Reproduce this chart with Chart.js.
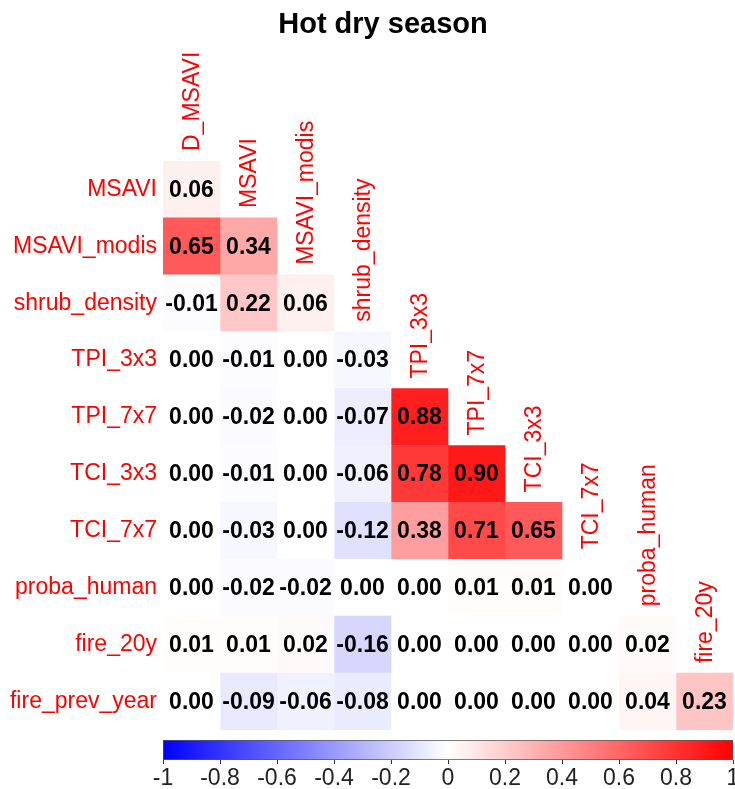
<!DOCTYPE html>
<html>
<head>
<meta charset="utf-8">
<script src="https://cdn.jsdelivr.net/npm/chart.js@4.4.1/dist/chart.umd.min.js"></script>
<style>
  html, body { margin: 0; padding: 0; background: #fff; }
  #wrap { position: relative; width: 735px; height: 789px; overflow: hidden; }
  #corrChart { position: absolute; left: 0; top: 0; }
  #scaleChart { position: absolute; left: 0; top: 735px; }
</style>
</head>
<body>
<div id="wrap">
  <canvas id="corrChart" width="735" height="789"></canvas>
  <canvas id="scaleChart" width="735" height="54"></canvas>
</div>
<script>
// row / column variables of the lower triangle
const rowNames = ['MSAVI', 'MSAVI_modis', 'shrub_density', 'TPI_3x3', 'TPI_7x7',
    'TCI_3x3', 'TCI_7x7', 'proba_human', 'fire_20y', 'fire_prev_year'];
const colNames = ['D_MSAVI', 'MSAVI', 'MSAVI_modis', 'shrub_density', 'TPI_3x3',
    'TPI_7x7', 'TCI_3x3', 'TCI_7x7', 'proba_human', 'fire_20y'];

// correlation values, one row each
const corrRows = [
    [0.06],
    [0.65, 0.34],
    [-0.01, 0.22, 0.06],
    [0.00, -0.01, 0.00, -0.03],
    [0.00, -0.02, 0.00, -0.07, 0.88],
    [0.00, -0.01, 0.00, -0.06, 0.78, 0.90],
    [0.00, -0.03, 0.00, -0.12, 0.38, 0.71, 0.65],
    [0.00, -0.02, -0.02, 0.00, 0.00, 0.01, 0.01, 0.00],
    [0.01, 0.01, 0.02, -0.16, 0.00, 0.00, 0.00, 0.00, 0.02],
    [0.00, -0.09, -0.06, -0.08, 0.00, 0.00, 0.00, 0.00, 0.04, 0.23]
];

// colour bar ticks
const scaleMin = -1;
const scaleMax = 1;
const scaleStep = 0.2;

const chartTitle = 'Hot dry season';

Chart.defaults.font.family = "'Liberation Sans', Arial, sans-serif";
Chart.defaults.animation = false;

// blue - white - red
function corrColor(v) {
    if (v >= 0) {
        const c = Math.round(255 * (1 - v));
        return `rgb(255, ${c}, ${c})`;
    }
    const c = Math.round(255 * (1 + v));
    return `rgb(${c}, ${c}, 255)`;
}

// one dataset per column, bars float over [j-0.5, j+0.5]
const cellSets = colNames.map((col, j) => ({
    label: col,
    data: rowNames.map((r, i) => (j < corrRows[i].length ? [j - 0.5, j + 0.5] : null)),
    backgroundColor: rowNames.map((r, i) => (j < corrRows[i].length ? corrColor(corrRows[i][j]) : 'rgba(0,0,0,0)')),
    borderWidth: 0,
    grouped: false,
    barPercentage: 1,
    categoryPercentage: 1
}));

// title, numbers in the cells, rotated column names on the diagonal
const cellTextPlugin = {
    id: 'cellText',
    afterDatasetsDraw: (chart) => {
        const { ctx, scales: { x, y } } = chart;
        const rowH = Math.abs(y.getPixelForValue(1) - y.getPixelForValue(0));
        ctx.save();
        ctx.font = "bold 29px 'Liberation Sans', Arial, sans-serif";
        ctx.fillStyle = '#000';
        ctx.textAlign = 'center';
        ctx.textBaseline = 'middle';
        ctx.fillText(chartTitle, 383, 25);

        ctx.font = "bold 23px 'Liberation Sans', Arial, sans-serif";
        corrRows.forEach((row, i) => {
            row.forEach((v, j) => {
                ctx.fillText(v.toFixed(2), x.getPixelForValue(j), y.getPixelForValue(i) + 1);
            });
        });

        ctx.font = "23px 'Liberation Sans', Arial, sans-serif";
        ctx.fillStyle = '#FF0000';
        ctx.textAlign = 'left';
        colNames.forEach((name, j) => {
            const px = x.getPixelForValue(j);
            const py = y.getPixelForValue(j) - rowH / 2 - 10;
            ctx.save();
            ctx.translate(px + 1, py);
            ctx.rotate(-Math.PI / 2);
            ctx.fillText(name, 0, 0);
            ctx.restore();
        });
        ctx.restore();
    }
};

new Chart(document.getElementById('corrChart').getContext('2d'), {
    type: 'bar',
    data: { labels: rowNames, datasets: cellSets },
    options: {
        indexAxis: 'y',
        responsive: false,
        layout: { padding: { top: 161, right: 2, bottom: 59, left: 0 } },
        plugins: {
            legend: { display: false },
            tooltip: { enabled: false }
        },
        scales: {
            x: { type: 'linear', min: -0.5, max: colNames.length - 0.5, display: false },
            y: {
                type: 'category',
                grid: { display: false, drawTicks: false },
                border: { display: false },
                ticks: { color: '#FF0000', font: { size: 23 }, padding: 6 },
                afterFit: (scale) => { scale.width = 163; }
            }
        }
    },
    plugins: [cellTextPlugin]
});

// colour legend
new Chart(document.getElementById('scaleChart').getContext('2d'), {
    type: 'bar',
    data: {
        labels: [''],
        datasets: [{
            data: [[scaleMin, scaleMax]],
            backgroundColor: (c) => {
                const area = c.chart.chartArea;
                if (!area) return '#fff';
                const g = c.chart.ctx.createLinearGradient(area.left, 0, area.right, 0);
                g.addColorStop(0, '#0000FF');
                g.addColorStop(0.5, '#FFFFFF');
                g.addColorStop(1, '#FF0000');
                return g;
            },
            borderColor: '#555',
            borderWidth: 1,
            borderSkipped: false,
            barPercentage: 1,
            categoryPercentage: 1
        }]
    },
    options: {
        indexAxis: 'y',
        responsive: false,
        layout: { padding: { top: 5, right: 2, bottom: 0, left: 163 } },
        plugins: { legend: { display: false }, tooltip: { enabled: false } },
        scales: {
            x: {
                type: 'linear',
                min: scaleMin,
                max: scaleMax,
                grid: { drawOnChartArea: false, drawTicks: true, tickLength: 4, color: '#333' },
                border: { display: false },
                ticks: {
                    stepSize: scaleStep,
                    color: '#222',
                    font: { size: 23 },
                    padding: 1,
                    maxRotation: 0,
                    autoSkip: false,
                    callback: (v) => String(Math.round(v * 10) / 10)
                },
                afterFit: (scale) => {
                    scale.height = 29;
                    scale.paddingLeft = 0;
                    scale.paddingRight = 0;
                }
            },
            y: { display: false }
        }
    }
});
</script>
</body>
</html>
